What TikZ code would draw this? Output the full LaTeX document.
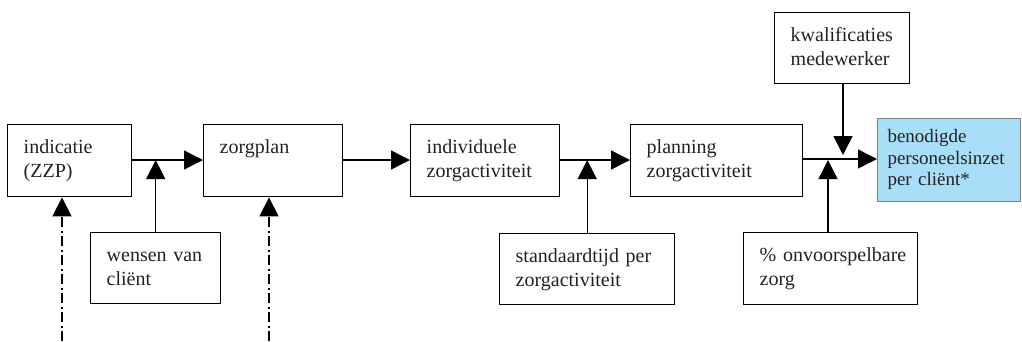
\documentclass[tikz,border=0pt]{standalone}
\usepackage{fontspec}
\usepackage{xcolor}
\setmainfont{Liberation Serif}
\usetikzlibrary{arrows.meta}

\definecolor{resultblue}{RGB}{168,222,248}
\definecolor{inkgray}{RGB}{34,34,34}

\begin{document}
\begin{tikzpicture}[x=1pt, y=-1pt, line width=1.4pt,
    box/.style={draw, anchor=north west, align=left, inner sep=0pt,
      text=inkgray, font=\fontsize{20}{23.5}\selectfont,
      text height=29pt, execute at begin node={\leftskip=16pt}},
    result/.style={box, draw=gray, fill=resultblue, line width=1pt,
      font=\fontsize{19}{21.5}\selectfont, text height=24pt,
      execute at begin node={\leftskip=10pt}},
    flow/.style={-{Triangle[length=19pt, width=19pt]}},
    dashdot/.style={flow, dash pattern=on 10pt off 3.5pt on 2pt off 3.5pt}]
    \useasboundingbox (0,0) rectangle (1022,341);

    % main chain
    \node [box, text width=124pt, text depth=43pt] (indicatie) at (7,124) {indicatie\\(ZZP)};
    \node [box, text width=139pt, text depth=43pt] (zorgplan) at (203,124) {zorgplan};
    \node [box, text width=149pt, text depth=43pt] (activiteit) at (410,124) {individuele\\zorgactiviteit};
    \node [box, text width=172pt, text depth=43pt] (planning) at (630,124) {planning\\zorgactiviteit};
    \node [result, text width=143pt, text depth=59pt] (inzet) at (877,118) {benodigde\\personeelsinzet\\per cliënt*};

    % inputs
    \node [box, text width=130pt, text depth=42pt] (wensen) at (90,232) {wensen van\\cliënt};
    \node [box, text width=175pt, text depth=42pt] (standaard) at (499,233) {standaardtijd per\\zorgactiviteit};
    \node [box, text width=174pt, text depth=43pt] (onvoorspel) at (743,232) {\%~onvoorspelbare\\zorg};
    \node [box, text width=135pt, text depth=42pt] (kwalificatie) at (774,12) {kwalificaties\\medewerker};

    \draw [flow] (indicatie.east |- 0,160) -- (zorgplan.west |- 0,160);
    \draw [flow] (zorgplan.east |- 0,160) -- (activiteit.west |- 0,160);
    \draw [flow] (activiteit.east |- 0,160) -- (planning.west |- 0,160);
    \draw [flow] (planning.east |- 0,159) -- (inzet.west |- 0,159);

    \draw [flow] (wensen.north) -- (wensen.north |- 0,160);
    \draw [flow] (standaard.north) -- (standaard.north |- 0,160);
    \draw [flow] (828,232) -- (828,160);
    \draw [flow] (843,83) -- (843,155);

    % dash-dot feeds from below
    \coordinate (feedA) at (62,341);
    \coordinate (feedB) at (269,341);
    \draw [dashdot] (feedA) -- (feedA |- indicatie.south);
    \draw [dashdot] (feedB) -- (feedB |- zorgplan.south);
\end{tikzpicture}
\end{document}
